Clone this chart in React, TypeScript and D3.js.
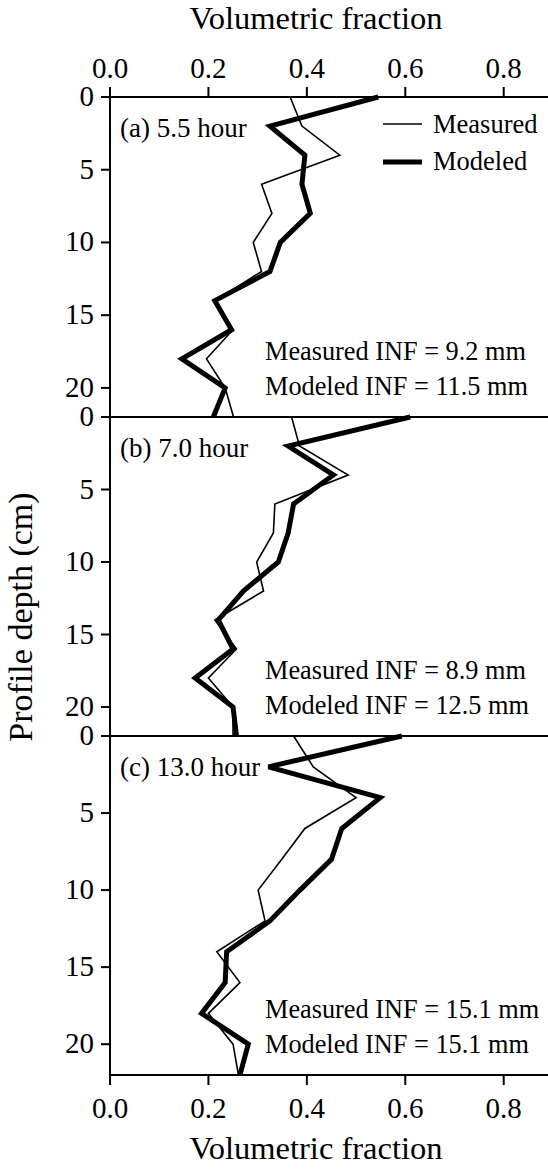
import React from "react";
import * as d3 from "d3";

// Soil moisture profiles: depth (cm) vs volumetric water fraction
const depths = [0, 2, 4, 6, 8, 10, 12, 14, 16, 18, 20, 22];

const measuredA = [0.366, 0.39, 0.467, 0.308, 0.329, 0.291, 0.308, 0.213, 0.25, 0.196, 0.234, 0.251];
const modeledA = [0.545, 0.325, 0.396, 0.39, 0.407, 0.346, 0.325, 0.213, 0.247, 0.146, 0.234, 0.21];

const measuredB = [0.369, 0.385, 0.484, 0.335, 0.332, 0.298, 0.312, 0.213, 0.257, 0.2, 0.25, 0.25];
const modeledB = [0.61, 0.362, 0.454, 0.373, 0.362, 0.342, 0.271, 0.22, 0.25, 0.173, 0.25, 0.257];

const measuredC = [0.373, 0.413, 0.5, 0.396, 0.349, 0.301, 0.315, 0.217, 0.264, 0.2, 0.25, 0.261];
const modeledC = [0.593, 0.322, 0.549, 0.471, 0.45, 0.386, 0.325, 0.237, 0.234, 0.186, 0.281, 0.264];

const panelTitles = ["(a) 5.5 hour", "(b) 7.0 hour", "(c) 13.0 hour"];
const measuredInf = ["9.2", "8.9", "15.1"];
const modeledInf = ["11.5", "12.5", "15.1"];

const xTicks = [0, 0.2, 0.4, 0.6, 0.8];
const yTicks = [0, 5, 10, 15, 20];

const W = 548;
const H = 1169;
const FONT = "Liberation Serif, DejaVu Serif, serif";

const left = 110;
const right = W;
const panelBounds = [
  [97, 417],
  [417, 736],
  [736, 1075],
];

const x = d3.scaleLinear().domain([0, 0.89]).range([left, right]);

const panels = [
  { measured: measuredA, modeled: modeledA },
  { measured: measuredB, modeled: modeledB },
  { measured: measuredC, modeled: modeledC },
];

const txt = { fontFamily: FONT };
const titleX = 316;

export default function App() {
  const top = panelBounds[0][0];
  const bottom = panelBounds[2][1];
  return (
    <svg
      width={W}
      height={H}
      style={{ position: "absolute", left: 0, top: 0, background: "#fff", fontFamily: FONT }}
    >
      <rect width={W} height={H} fill="#fff" />
      {/* top axis title and ticks */}
      <text x={titleX} y={29} fontSize={32.5} textAnchor="middle" style={txt}>
        Volumetric fraction
      </text>
      {xTicks.map((t) => (
        <g key={"tt" + t}>
          <line x1={x(t)} x2={x(t)} y1={top} y2={top - 10} stroke="#000" strokeWidth={2} />
          <text x={x(t)} y={78} fontSize={29} textAnchor="middle" style={txt}>
            {d3.format(".1f")(t)}
          </text>
        </g>
      ))}
      {/* bottom axis */}
      {xTicks.map((t) => (
        <g key={"bt" + t}>
          <line x1={x(t)} x2={x(t)} y1={bottom} y2={bottom + 10} stroke="#000" strokeWidth={2} />
          <text x={x(t)} y={1118} fontSize={29} textAnchor="middle" style={txt}>
            {d3.format(".1f")(t)}
          </text>
        </g>
      ))}
      <text x={titleX} y={1159} fontSize={32.5} textAnchor="middle" style={txt}>
        Volumetric fraction
      </text>
      {/* y axis title */}
      <text
        transform={`translate(32, 617) rotate(-90)`}
        fontSize={34}
        textAnchor="middle"
        style={txt}
      >
        Profile depth (cm)
      </text>

      {panels.map((p, i) => {
        const [y0, y1] = panelBounds[i];
        const y = d3.scaleLinear().domain([0, 22]).range([y0, y1]);
        const line = d3
          .line<number>()
          .x((v) => x(v))
          .y((_, k) => y(depths[k]));
        return (
          <g key={i}>
            <line x1={left} x2={right} y1={y0} y2={y0} stroke="#000" strokeWidth={2} />
            {yTicks.map((t) => (
              <g key={t}>
                <line x1={left - 9} x2={left} y1={y(t)} y2={y(t)} stroke="#000" strokeWidth={2} />
                <text x={left - 16} y={y(t) + 9} fontSize={29} textAnchor="end" style={txt}>
                  {t}
                </text>
              </g>
            ))}
            <path d={line(p.measured) || ""} fill="none" stroke="#000" strokeWidth={1.6} />
            <path d={line(p.modeled) || ""} fill="none" stroke="#000" strokeWidth={5} />
            <text x={120} y={y0 + 40} fontSize={27} style={txt}>
              {panelTitles[i]}
            </text>
            <text x={265} y={y1 - 57} fontSize={26.3} style={txt}>
              {`Measured INF = ${measuredInf[i]} mm`}
            </text>
            <text x={265} y={y1 - 22} fontSize={26.3} style={txt}>
              {`Modeled INF = ${modeledInf[i]} mm`}
            </text>
          </g>
        );
      })}
      {/* left frame */}
      <line x1={left} x2={left} y1={top - 10} y2={bottom} stroke="#000" strokeWidth={2} />
      <line x1={left} x2={right} y1={bottom} y2={bottom} stroke="#000" strokeWidth={2} />

      {/* legend */}
      <line x1={383} x2={422} y1={124} y2={124} stroke="#000" strokeWidth={1.6} />
      <text x={433} y={133} fontSize={26.5} style={txt}>
        Measured
      </text>
      <line x1={383} x2={422} y1={162} y2={162} stroke="#000" strokeWidth={5} />
      <text x={433} y={170} fontSize={26.5} style={txt}>
        Modeled
      </text>
    </svg>
  );
}
